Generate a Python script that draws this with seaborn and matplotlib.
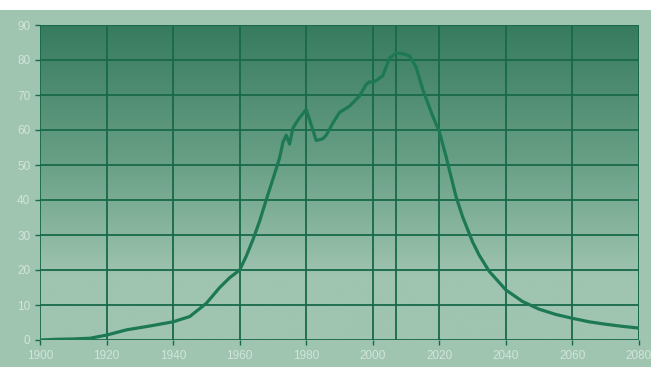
import numpy as np
import pandas as pd
import matplotlib
matplotlib.use("Agg")
import matplotlib.pyplot as plt
from matplotlib.colors import LinearSegmentedColormap
import seaborn as sns

years = [1900, 1905, 1910, 1915, 1920, 1926, 1933, 1940, 1945, 1950, 1954, 1957, 1960,
         1962, 1964, 1966, 1968, 1970, 1972, 1973, 1974, 1975, 1976, 1977, 1978, 1980,
         1982, 1983, 1985, 1986, 1988, 1990, 1993, 1996, 1998, 1999, 2000, 2002, 2003,
         2005, 2007, 2009, 2011, 2013, 2015, 2018, 2020, 2022, 2025, 2027, 2030, 2032,
         2035, 2040, 2045, 2050, 2055, 2060, 2065, 2070, 2075, 2080]
values = [0.0, 0.2, 0.3, 0.5, 1.4, 2.9, 4.0, 5.2, 6.7, 10.5, 15.0, 17.8, 20.0,
          24.0, 28.7, 34.0, 40.1, 46.0, 52.0, 56.5, 58.5, 56.0, 60.5, 62.1, 63.5, 65.9,
          60.0, 57.0, 57.5, 58.5, 62.0, 65.0, 66.8, 69.7, 73.0, 73.8, 73.5, 74.8, 75.5,
          80.5, 82.0, 81.8, 81.2, 78.0, 71.6, 64.0, 59.5, 52.5, 41.0, 35.2, 28.0, 24.2,
          19.6, 14.3, 11.0, 8.8, 7.3, 6.2, 5.2, 4.5, 3.9, 3.4]
x_ticks = [1900, 1920, 1940, 1960, 1980, 2000, 2020, 2040, 2060, 2080]
y_ticks = [0, 10, 20, 30, 40, 50, 60, 70, 80, 90]
peak_year = 2007

df = pd.DataFrame({"year": years, "value": values})

bg = "#9fc4b0"
grid_c = "#17694a"
line_c = "#1d7954"
label_c = "#d2e5da"

fig = plt.figure(figsize=(6.51, 3.67), dpi=100, facecolor=bg)
fig.patches.append(plt.Rectangle((0, 1 - 10 / 367), 1, 10 / 367, transform=fig.transFigure,
                                 facecolor="white", edgecolor="none", zorder=-1))
ax = fig.add_axes([40 / 651, 1 - 340 / 367, 599 / 651, 315 / 367])
ax.set_facecolor(bg)

cmap = LinearSegmentedColormap.from_list("g", [(0.0, bg), (0.2, bg), (0.55, "#6aa187"), (1.0, "#377b5e")])
grad = np.linspace(0, 1, 256).reshape(-1, 1)
ax.imshow(grad, cmap=cmap, aspect="auto", extent=[0, 1, 0, 1], origin="lower",
          transform=ax.transAxes, zorder=0)

sns.lineplot(data=df, x="year", y="value", ax=ax, color=line_c, linewidth=2.3, zorder=3)

ax.set_xlim(1900, 2080)
ax.set_ylim(0, 90)
ax.set_xticks(x_ticks)
ax.set_yticks(y_ticks)
ax.set_xticklabels([str(t) for t in x_ticks], family="Liberation Sans")
ax.set_yticklabels([str(t) for t in y_ticks], family="Liberation Sans")
ax.grid(True, color=grid_c, linewidth=1.3, zorder=2)
ax.set_axisbelow(False)
ax.axvline(peak_year, color=grid_c, linewidth=1.3, zorder=2)
for s in ax.spines.values():
    s.set_visible(False)
ax.axvline(2080, color=grid_c, linewidth=1.3, zorder=2)
ax.axhline(90, color=grid_c, linewidth=1.3, zorder=2)
ax.tick_params(axis="both", colors=grid_c, labelcolor=label_c, labelsize=8.5, length=3.5, width=1)
ax.set_xlabel("")
ax.set_ylabel("")

fig.savefig("out.png", dpi=100, facecolor=bg)
